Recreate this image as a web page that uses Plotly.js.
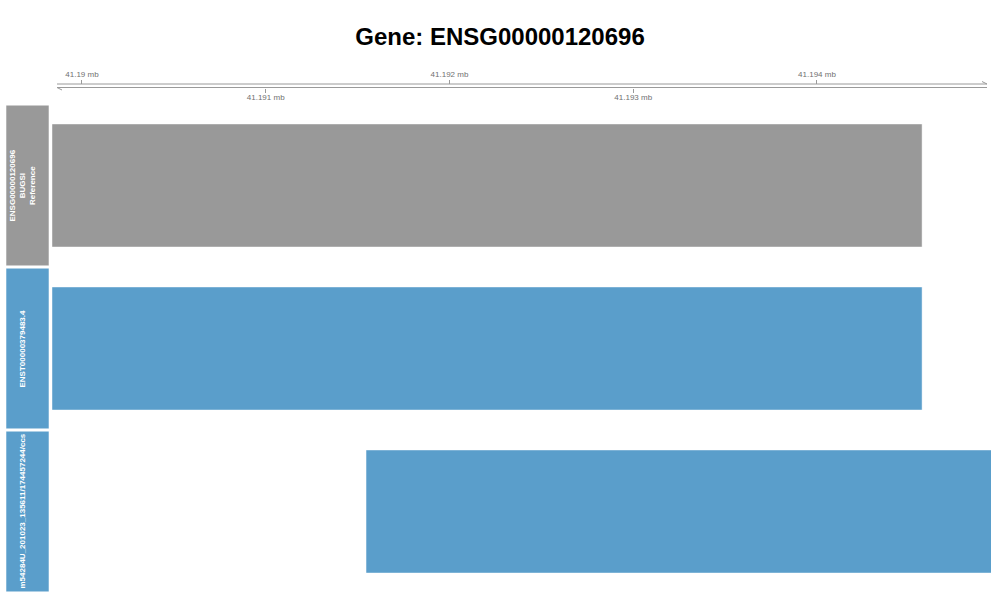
<!DOCTYPE html>
<html>
<head>
<meta charset="utf-8">
<script src="https://cdn.plot.ly/plotly-3.0.1.min.js"></script>
<style>html,body{margin:0;padding:0;background:#fff;}#chart{width:1000px;height:600px;}</style>
</head>
<body>
<div id="chart"></div>
<script>
// ---- data ----
const trackLabels = [
  "ENSG00000120696<br>BUGSI<br>Reference",
  "ENST00000379483.4",
  "m54284U_201023_135611/174457244/ccs"
];
const trackStarts = [41189837, 41189837, 41191546];
const trackEnds   = [41194572, 41194572, 41195400];
const viewRange   = [41189837, 41194947];
const upperTicks  = [41190000, 41192000, 41194000];
const upperTickText = ["41.19 mb", "41.192 mb", "41.194 mb"];
const lowerTicks  = [41191000, 41193000];
const lowerTickText = ["41.191 mb", "41.193 mb"];

// ---- styles ----
const GRAY = "#999999", BLUE = "#5a9ecb";
const trackColors = [GRAY, BLUE, BLUE];
const FONT = "Liberation Sans, Arial, Helvetica, sans-serif";

const idx = trackLabels.map((_, i) => i);

const traces = [
  {
    type: "bar", orientation: "h",
    y: idx, base: trackStarts,
    x: trackEnds.map((e, i) => e - trackStarts[i]),
    width: 0.755,
    marker: { color: trackColors, line: { color: "rgba(255,255,255,0.45)", width: 1 } },
    hoverinfo: "skip", showlegend: false
  },
  { type: "scatter", x: [], y: [], xaxis: "x2", yaxis: "y", showlegend: false, hoverinfo: "skip" },
  { type: "scatter", x: [], y: [], xaxis: "x3", yaxis: "y", showlegend: false, hoverinfo: "skip" }
];

// paper-coordinate helpers (plot spans 70..593 px vertically, 52..991 px horizontally)
const H0 = 70, H1 = 593, L = 52, R = 991;
const py = p => (H1 - p) / (H1 - H0);
const px = p => (p - L) / (R - L);

const shapes = [];
// track label boxes
idx.forEach(i => {
  shapes.push({
    type: "rect", xref: "paper", yref: "y",
    x0: px(6), x1: px(49), y0: i - 0.5 + 0.007, y1: i + 0.5 - 0.007,
    fillcolor: trackColors[i], line: { color: "rgba(255,255,255,0.55)", width: 1 }, layer: "above"
  });
});
// genome axis double line and arrow heads
const axisLine = { color: "#9a9a9a", width: 1 };
shapes.push({ type: "line", xref: "paper", yref: "paper", x0: px(57), x1: px(987), y0: py(84), y1: py(84), line: axisLine });
shapes.push({ type: "line", xref: "paper", yref: "paper", x0: px(57), x1: px(987), y0: py(87.5), y1: py(87.5), line: axisLine });
shapes.push({ type: "line", xref: "paper", yref: "paper", x0: px(57), x1: px(62), y0: py(87.5), y1: py(90), line: axisLine });
shapes.push({ type: "line", xref: "paper", yref: "paper", x0: px(987), x1: px(982), y0: py(84), y1: py(81.5), line: axisLine });

const annotations = idx.map(i => ({
  xref: "paper", yref: "y", x: px(22), y: i, xanchor: "center", yanchor: "middle",
  text: "<b>" + trackLabels[i] + "</b>", textangle: -90, showarrow: false,
  font: { family: FONT, size: 8, color: "#ffffff" }, align: "center"
}));

const tickAxis = (vals, text, side, pos, standoff) => ({
  overlaying: "x", anchor: "free", position: pos, side: side,
  range: viewRange, tickmode: "array", tickvals: vals, ticktext: text,
  ticks: "outside", ticklen: 4, tickcolor: "#9a9a9a", tickwidth: 1,
  showline: false, showgrid: false, zeroline: false,
  tickfont: { family: FONT, size: 8, color: "#707070" }, ticklabelstandoff: standoff
});

const layout = {
  width: 1000, height: 600,
  paper_bgcolor: "#ffffff", plot_bgcolor: "#ffffff",
  margin: { l: L, r: 1000 - R, t: H0, b: 600 - H1, pad: 0 },
  title: {
    text: "Gene: ENSG00000120696", x: 0.5, xref: "container", xanchor: "center",
    y: 1 - 37 / 600, yref: "container", yanchor: "middle",
    font: { family: FONT, size: 24, color: "#000000", weight: "bold" }
  },
  xaxis: { range: viewRange, visible: false, showgrid: false, zeroline: false },
  xaxis2: tickAxis(upperTicks, upperTickText, "top", py(84), 0),
  xaxis3: tickAxis(lowerTicks, lowerTickText, "bottom", py(87.5), -2),
  yaxis: { range: [2.5, -0.5], domain: [0, py(104)], visible: false, showgrid: false, zeroline: false },
  bargap: 0, showlegend: false,
  shapes: shapes, annotations: annotations
};

Plotly.newPlot("chart", traces, layout, { displayModeBar: false, staticPlot: true });
</script>
</body>
</html>
